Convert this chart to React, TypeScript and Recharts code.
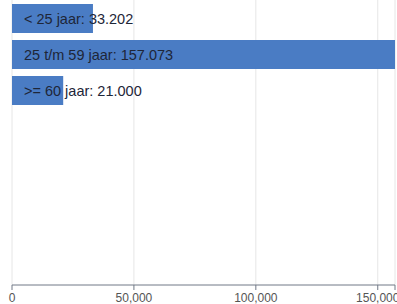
import { BarChart, Bar, XAxis, YAxis, CartesianGrid, LabelList } from "recharts";

const categories = ["< 25 jaar", "25 t/m 59 jaar", ">= 60 jaar"];
const values = [33202, 157073, 21000];
const axisTicks = [0, 50000, 100000, 150000, 157073];

const dutch = (v: number) => String(v).replace(/\B(?=(\d{3})+(?!\d))/g, ".");

const data = categories.map((name, i) => ({
  name,
  value: values[i],
  label: `${name}: ${dutch(values[i])}`,
}));

const tickLabel = (v: number) =>
  v === 157073 ? "" : String(v).replace(/\B(?=(\d{3})+(?!\d))/g, ",");

// plain svg text so long labels don't wrap inside short bars
const BarLabel = (props: any) => {
  const { x, y, height, value } = props;
  return (
    <text
      x={Number(x) + 12}
      y={Number(y) + Number(height) / 2}
      dominantBaseline="central"
      fill="#1e2638"
      fontSize={14.5}
    >
      {value}
    </text>
  );
};

const App = () => {
  return (
    <div style={{ position: "absolute", left: 0, top: 0, background: "#fff" }}>
      <BarChart
        width={397}
        height={304}
        data={data}
        layout="vertical"
        margin={{ top: 0, right: 2, left: 12, bottom: 0 }}
        style={{ fontFamily: "'Liberation Sans', Arial, sans-serif" }}
      >
        <CartesianGrid horizontal={false} stroke="#e6e6e6" />
        <XAxis
          type="number"
          dataKey="value"
          domain={[0, 157073]}
          ticks={axisTicks}
          tickFormatter={tickLabel}
          interval={0}
          height={19}
          tickSize={5}
          tickMargin={3}
          stroke="#707886"
          tick={{ fill: "#555", fontSize: 12 }}
        />
        <YAxis
          type="category"
          dataKey="name"
          hide
          padding={{ top: 0, bottom: 177 }}
        />
        <Bar dataKey="value" fill="#4a7cc4" barSize={29} isAnimationActive={false}>
          <LabelList dataKey="label" content={BarLabel} />
        </Bar>
      </BarChart>
    </div>
  );
};

export default App;
